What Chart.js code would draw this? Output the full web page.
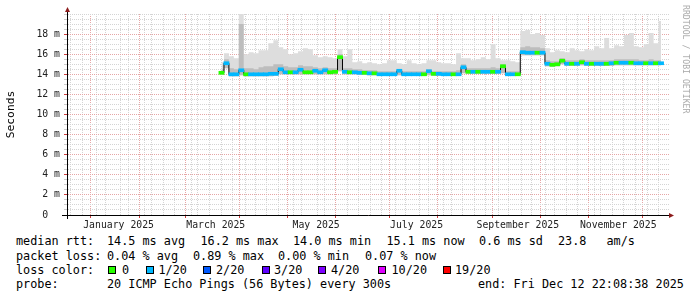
<!DOCTYPE html>
<html>
<head>
<meta charset="utf-8">
<script src="https://cdn.jsdelivr.net/npm/chart.js@4.4.1/dist/chart.umd.min.js"></script>
<style>
body{margin:0;background:#fff;}
#wrap{position:relative;width:697px;height:297px;overflow:hidden;background:#fff;font-family:"DejaVu Sans Mono",monospace;}
#Grafica{position:absolute;left:0;top:0;}
.lg{position:absolute;font-size:11.8px;line-height:14px;white-space:pre;color:#000;}
.box{position:absolute;width:6px;height:6px;border:1px solid #000;}
#wm{position:absolute;left:691px;top:5px;transform-origin:0 0;transform:rotate(90deg);font-size:8.2px;line-height:10px;color:#aaa;white-space:pre;}
</style>
</head>
<body>
<div id="wrap">
<canvas id="Grafica" width="697" height="232"></canvas>

<div class="lg" style="left:16px;top:234px">median rtt:</div>
<div class="lg" style="left:107px;top:234px">14.5 ms avg</div>
<div class="lg" style="left:200.5px;top:234px">16.2 ms max</div>
<div class="lg" style="left:293px;top:234px">14.0 ms min</div>
<div class="lg" style="left:386.5px;top:234px">15.1 ms now</div>
<div class="lg" style="left:479px;top:234px">0.6 ms sd</div>
<div class="lg" style="left:558px;top:234px">23.8</div>
<div class="lg" style="left:606.5px;top:234px">am/s</div>

<div class="lg" style="left:16px;top:248.5px">packet loss:</div>
<div class="lg" style="left:107px;top:248.5px">0.04 % avg</div>
<div class="lg" style="left:193px;top:248.5px">0.89 % max</div>
<div class="lg" style="left:278px;top:248.5px">0.00 % min</div>
<div class="lg" style="left:365px;top:248.5px">0.07 % now</div>

<div class="lg" style="left:16px;top:262.5px">loss color:</div>
<div class="box" style="left:108px;top:266px;background:#26ff00"></div>
<div class="lg" style="left:122px;top:262.5px">0</div>
<div class="box" style="left:146px;top:266px;background:#00b8ff"></div>
<div class="lg" style="left:158.5px;top:262.5px">1/20</div>
<div class="box" style="left:203px;top:266px;background:#0059ff"></div>
<div class="lg" style="left:216px;top:262.5px">2/20</div>
<div class="box" style="left:262px;top:266px;background:#5e00ff"></div>
<div class="lg" style="left:274px;top:262.5px">3/20</div>
<div class="box" style="left:318px;top:266px;background:#7e00ff"></div>
<div class="lg" style="left:331px;top:262.5px">4/20</div>
<div class="box" style="left:378px;top:266px;background:#dd00ff"></div>
<div class="lg" style="left:391.5px;top:262.5px">10/20</div>
<div class="box" style="left:443px;top:266px;background:#ff0000"></div>
<div class="lg" style="left:455px;top:262.5px">19/20</div>

<div class="lg" style="left:16px;top:277px">probe:</div>
<div class="lg" style="left:107px;top:277px">20 ICMP Echo Pings (56 Bytes) every 300s</div>
<div class="lg" style="left:478px;top:277px">end: Fri Dec 12 22:08:38 2025</div>

<div id="wm">RRDTOOL / TOBI OETIKER</div>
</div>
<script>
// days counted from Jan 1 2025, one sample every 3 days
const sampleDays = [78, 81, 84, 87, 90, 93, 96, 99, 102, 105,
    108, 111, 114, 117, 120, 123, 126, 129, 132, 135,
    138, 141, 144, 147, 150, 153, 156, 159, 162, 165,
    168, 171, 174, 177, 180, 183, 186, 189, 192, 195,
    198, 201, 204, 207, 210, 213, 216, 219, 222, 225,
    228, 231, 234, 237, 240, 243, 246, 249, 252, 255,
    258, 261, 264, 267, 270, 273, 276, 279, 282, 285,
    288, 291, 294, 297, 300, 303, 306, 309, 312, 315,
    318, 321, 324, 327, 330, 333, 336, 339, 342, 345];

// milliseconds
const medianRtt = [14.15, 15.1, 14.0, 14.0, 14.4, 14.0, 14.0, 14.0, 14.0, 14.0,
    14.05, 14.05, 14.5, 14.2, 14.2, 14.2, 14.45, 14.2, 14.2, 14.35,
    14.2, 14.4, 14.2, 14.25, 15.7, 14.25, 14.2, 14.2, 14.15, 14.15,
    14.1, 14.1, 14.0, 14.0, 14.0, 14.0, 14.35, 14.0, 14.0, 14.0,
    14.0, 14.0, 14.3, 14.05, 14.05, 14.0, 14.0, 14.0, 14.0, 14.7,
    14.25, 14.25, 14.25, 14.25, 14.25, 14.25, 14.25, 14.8, 14.0, 14.0,
    14.0, 16.2, 16.15, 16.15, 16.15, 16.15, 15.05, 14.95, 15.0, 15.35,
    15.05, 15.05, 15.05, 15.2, 15.05, 15.05, 15.05, 15.05, 15.05, 15.1,
    15.15, 15.15, 15.15, 15.15, 15.1, 15.1, 15.1, 15.1, 15.1, 15.1];

const smokeMax = [15.2, 16.1, 15.8, 15.6, 20.0, 16.0, 16.2, 16.1, 16.4, 16.4,
    17.1, 17.4, 16.7, 16.5, 16.0, 16.1, 16.3, 16.6, 16.5, 15.9,
    15.7, 15.8, 15.7, 15.6, 16.5, 15.8, 16.5, 15.2, 15.3, 15.1,
    15.2, 15.1, 15.0, 15.1, 15.4, 15.4, 15.1, 15.0, 15.4, 15.1,
    15.0, 15.1, 15.4, 15.4, 15.2, 15.1, 15.1, 15.0, 16.1, 15.6,
    15.6, 15.4, 15.5, 15.7, 15.5, 17.0, 15.6, 15.4, 15.4, 15.3,
    15.2, 18.3, 18.4, 18.0, 18.1, 17.9, 16.6, 16.2, 16.4, 16.3,
    16.2, 16.6, 16.4, 16.3, 16.5, 16.4, 16.8, 16.6, 17.6, 16.6,
    16.9, 16.8, 17.9, 18.1, 16.8, 16.7, 17.0, 18.1, 17.1, 19.3];

const smokeUpper = [14.5, 15.5, 14.6, 14.5, 19.0, 14.6, 14.6, 14.5, 14.7, 14.8,
    14.8, 15.0, 15.0, 14.8, 14.7, 14.7, 14.9, 14.8, 14.8, 14.7,
    14.6, 14.7, 14.6, 14.6, 16.0, 14.6, 14.6, 14.5, 14.5, 14.4,
    14.4, 14.4, 14.3, 14.3, 14.3, 14.3, 14.5, 14.3, 14.3, 14.3,
    14.3, 14.3, 14.5, 14.3, 14.3, 14.3, 14.3, 14.3, 14.4, 15.0,
    14.6, 14.6, 14.6, 14.6, 14.6, 14.7, 14.6, 15.0, 14.3, 14.3,
    14.3, 16.7, 16.8, 16.7, 16.7, 16.6, 15.4, 15.3, 15.3, 15.6,
    15.4, 15.4, 15.4, 15.5, 15.4, 15.4, 15.4, 15.4, 15.4, 15.4,
    15.5, 15.5, 15.5, 15.5, 15.5, 15.4, 15.4, 15.5, 15.4, 15.4];

const smokeMin = [13.95, 14.6, 13.8, 13.8, 13.9, 13.8, 13.8, 13.8, 13.8, 13.8,
    13.8, 13.85, 14.0, 14.0, 14.0, 14.0, 14.0, 14.0, 14.0, 14.0,
    14.0, 14.0, 14.0, 14.0, 14.3, 14.0, 14.0, 14.0, 13.95, 13.95,
    13.9, 13.9, 13.85, 13.85, 13.85, 13.85, 13.9, 13.85, 13.85, 13.85,
    13.85, 13.85, 13.9, 13.85, 13.85, 13.85, 13.85, 13.85, 13.85, 14.1,
    14.05, 14.05, 14.05, 14.05, 14.05, 14.05, 14.05, 14.1, 13.85, 13.85,
    13.85, 15.9, 15.9, 15.9, 15.9, 15.9, 14.8, 14.75, 14.8, 15.0,
    14.85, 14.85, 14.85, 14.9, 14.85, 14.85, 14.85, 14.85, 14.85, 14.85,
    14.9, 14.9, 14.9, 14.9, 14.9, 14.9, 14.9, 14.9, 14.9, 14.9];

// index into lossColors (0 = 0/20, 1 = 1/20 ...)
const lossIndex = [0, 1, 1, 1, 1, 0, 1, 1, 1, 1,
    1, 1, 1, 1, 0, 1, 1, 0, 0, 1,
    1, 1, 0, 0, 0, 1, 0, 1, 1, 0,
    1, 0, 1, 1, 1, 1, 1, 1, 1, 1,
    1, 0, 1, 0, 1, 1, 1, 0, 1, 1,
    0, 1, 0, 1, 1, 0, 1, 0, 1, 1,
    0, 1, 1, 1, 0, 1, 1, 0, 0, 0,
    1, 0, 1, 0, 1, 0, 1, 1, 0, 1,
    0, 1, 1, 0, 1, 1, 0, 1, 0, 1];

const lossColors = ['#26ff00', '#00b8ff', '#0059ff', '#5e00ff', '#7e00ff', '#dd00ff', '#ff0000'];

const monthStartDays = [0, 31, 59, 90, 120, 151, 181, 212, 243, 273, 304, 334];
const monthLabelDays = [15.5, 74.5, 135.5, 196.5, 258, 319];
const monthLabels = ['January 2025', 'March 2025', 'May 2025', 'July 2025', 'September 2025', 'November 2025'];
const firstSunday = -10;

const xMin = -13.2;
const xMax = 347.2;
const yMax = 20;
const yMajorStep = 2;
const yMinorStep = 0.5;

const MONO = '"DejaVu Sans Mono", monospace';
const majorGrid = '#e6a6a6';
const minorGrid = '#d4d4d4';

function xy(values){
    return sampleDays.map((d, i) => ({'x': d, 'y': values[i]}));
}

function medianBars(){
    return sampleDays.map((d, i) => ({'x': d, 'y': [medianRtt[i] - 0.15, medianRtt[i] + 0.15]}));
}

function buildXTicks(axis){
    let ticks = [];
    for (let d = firstSunday; d <= xMax; d += 7){
        if (monthStartDays.indexOf(d) === -1){ticks.push({'value': d, 'kind': 'minor'});}
    }
    monthStartDays.forEach(d => ticks.push({'value': d, 'kind': 'major'}));
    monthLabelDays.forEach((d, i) => ticks.push({'value': d, 'kind': 'label', 'text': monthLabels[i]}));
    ticks.sort((a, b) => a.value - b.value);
    axis.ticks = ticks;
}

function buildYTicks(axis){
    let ticks = [];
    for (let v = 0; v <= yMax; v += yMinorStep){ticks.push({'value': v});}
    axis.ticks = ticks;
}

function isYMajor(v){
    return v % yMajorStep === 0 && v < yMax;
}

const axisArrows = {
    'id': 'axisArrows',
    afterDraw(chart){
        const ctx = chart.ctx;
        const a = chart.chartArea;
        ctx.save();
        ctx.strokeStyle = '#000';
        ctx.lineWidth = 1;
        ctx.beginPath();
        ctx.moveTo(a.left + 0.5, a.top);
        ctx.lineTo(a.left + 0.5, a.top - 3);
        ctx.moveTo(a.left + 0.5, a.bottom);
        ctx.lineTo(a.left + 0.5, a.bottom + 4);
        ctx.moveTo(a.left - 5, a.bottom + 0.5);
        ctx.lineTo(a.left, a.bottom + 0.5);
        ctx.stroke();
        ctx.fillStyle = '#8c1c1c';
        ctx.beginPath();
        ctx.moveTo(a.left - 2, a.top - 2);
        ctx.lineTo(a.left + 3, a.top - 2);
        ctx.lineTo(a.left + 0.5, a.top - 7);
        ctx.closePath();
        ctx.fill();
        ctx.beginPath();
        ctx.moveTo(a.right, a.bottom - 2);
        ctx.lineTo(a.right, a.bottom + 3);
        ctx.lineTo(a.right + 5, a.bottom + 0.5);
        ctx.closePath();
        ctx.fill();
        ctx.restore();
    }
};

let config = {
    'type': 'line',
    'data': {
        'datasets': [
            {
                'label': 'smoke max',
                'data': xy(smokeMax),
                'fill': 2,
                'backgroundColor': '#dddddd',
                'borderWidth': 0,
                'pointRadius': 0,
                'stepped': 'middle',
                'order': 5
            },
            {
                'label': 'smoke upper',
                'data': xy(smokeUpper),
                'fill': 2,
                'backgroundColor': '#bdbdbd',
                'borderWidth': 0,
                'pointRadius': 0,
                'stepped': 'middle',
                'order': 4
            },
            {
                'label': 'smoke min',
                'data': xy(smokeMin),
                'fill': false,
                'borderWidth': 0,
                'pointRadius': 0,
                'stepped': 'middle',
                'order': 3
            },
            {
                'label': 'median steps',
                'data': xy(medianRtt),
                'fill': false,
                'borderColor': '#000',
                'borderWidth': 1,
                'pointRadius': 0,
                'stepped': 'middle',
                'order': 2
            },
            {
                'type': 'bar',
                'label': 'median rtt',
                'data': medianBars(),
                'backgroundColor': lossIndex.map(k => lossColors[k]),
                'borderWidth': 0,
                'barThickness': 5.2,
                'order': 1
            }
        ]
    },
    'options': {
        'responsive': false,
        'animation': false,
        'events': [],
        'layout': {'padding': {'top': 14, 'right': 28, 'left': 0, 'bottom': 0}},
        'plugins': {
            'legend': {'display': false},
            'tooltip': {'enabled': false}
        },
        'scales': {
            'x': {
                'type': 'linear',
                'min': xMin,
                'max': xMax,
                'afterBuildTicks': buildXTicks,
                'afterFit': axis => { axis.height = 17; },
                'border': {'display': true, 'color': '#000', 'width': 1, 'dash': [1, 1]},
                'grid': {
                    'color': c => (c.tick && c.tick.kind === 'major') ? majorGrid : (c.tick && c.tick.kind === 'minor') ? minorGrid : 'rgba(0,0,0,0)',
                    'lineWidth': 1,
                    'drawTicks': true,
                    'tickLength': 3,
                    'tickColor': c => (c.tick && c.tick.kind === 'major') ? '#d04040' : 'rgba(0,0,0,0)'
                },
                'ticks': {
                    'autoSkip': false,
                    'maxRotation': 0,
                    'minRotation': 0,
                    'padding': 2,
                    'color': '#222',
                    'font': {'family': MONO, 'size': 9.8},
                    'callback': (value, index, ticks) => ticks[index].text || ''
                }
            },
            'y': {
                'type': 'linear',
                'min': 0,
                'max': yMax,
                'afterBuildTicks': buildYTicks,
                'afterFit': axis => { axis.width = 67; },
                'border': {'display': true, 'color': '#000', 'width': 1, 'dash': [1, 1]},
                'grid': {
                    'color': c => (c.tick && isYMajor(c.tick.value)) ? majorGrid : minorGrid,
                    'lineWidth': 1,
                    'drawTicks': true,
                    'tickLength': 3,
                    'tickColor': c => (c.tick && isYMajor(c.tick.value)) ? '#d04040' : '#cccccc'
                },
                'title': {
                    'display': true,
                    'text': 'Seconds',
                    'color': '#000',
                    'font': {'family': MONO, 'size': 11.3},
                    'padding': {'top': 4, 'bottom': 0}
                },
                'ticks': {
                    'autoSkip': false,
                    'padding': 4,
                    'color': '#222',
                    'font': {'family': MONO, 'size': 9.8},
                    'callback': value => isYMajor(value) ? (value === 0 ? '0  ' : value + ' m') : ''
                }
            }
        }
    },
    'plugins': [axisArrows]
};

new Chart(document.getElementById('Grafica').getContext('2d'), config);
</script>
</body>
</html>
